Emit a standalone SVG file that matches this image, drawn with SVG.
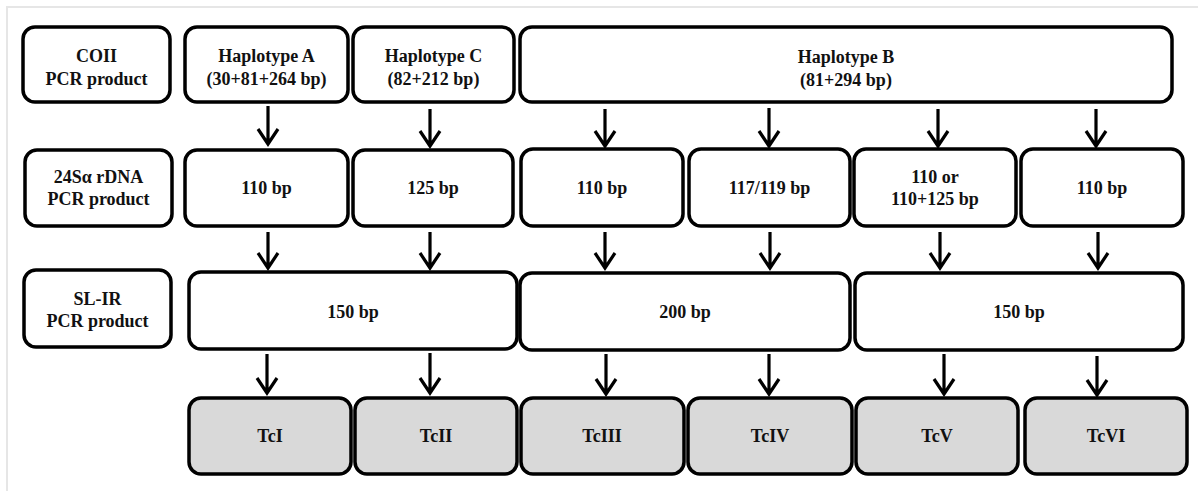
<svg xmlns="http://www.w3.org/2000/svg" width="1198" height="491" viewBox="0 0 1198 491">
<defs>
<style>
.box{fill:#ffffff;stroke:#000;stroke-width:3.5}
.tc{fill:#d9d9d9;stroke:#000;stroke-width:3.5}
.t{font-family:"Liberation Serif","Times New Roman",serif;font-weight:bold;font-size:18px;fill:#111;text-anchor:middle}
.arr{fill:none;stroke:#000;stroke-width:3.2;stroke-linejoin:miter}
.frame{stroke:#e6e6e6;stroke-width:2;fill:none}
</style>
</defs>
<rect width="1198" height="491" fill="#ffffff"/>
<path class="frame" d="M7,491 V7 H1198"/>

<g id="row1">
<g id="n-coii"><rect class="box" x="23" y="27" width="147" height="75" rx="12"/><text class="t" x="96.5" y="62">COII</text><text class="t" x="96.5" y="85">PCR product</text></g>
<g id="n-hapA"><rect class="box" x="185" y="27" width="163" height="75" rx="12"/><text class="t" x="266.5" y="62">Haplotype A</text><text class="t" x="266.5" y="85">(30+81+264 bp)</text></g>
<g id="n-hapC"><rect class="box" x="353" y="27" width="161" height="75" rx="12"/><text class="t" x="433.5" y="62">Haplotype C</text><text class="t" x="433.5" y="85">(82+212 bp)</text></g>
<g id="n-hapB"><rect class="box" x="520" y="27" width="652" height="75" rx="12"/><text class="t" x="846" y="63">Haplotype B</text><text class="t" x="846" y="86">(81+294 bp)</text></g>
</g>

<g id="row2">
<g id="n-24s"><rect class="box" x="25" y="150" width="147" height="76" rx="12"/><text class="t" x="98.5" y="183">24Sα rDNA</text><text class="t" x="98.5" y="205">PCR product</text></g>
<g id="n-r2a"><rect class="box" x="185" y="150" width="163" height="76" rx="12"/><text class="t" x="266.5" y="194">110 bp</text></g>
<g id="n-r2b"><rect class="box" x="353" y="150" width="160" height="76" rx="12"/><text class="t" x="433" y="194">125 bp</text></g>
<g id="n-r2c"><rect class="box" x="521" y="149" width="162" height="77" rx="12"/><text class="t" x="602" y="194">110 bp</text></g>
<g id="n-r2d"><rect class="box" x="689" y="149" width="161" height="77" rx="12"/><text class="t" x="769.5" y="194">117/119 bp</text></g>
<g id="n-r2e"><rect class="box" x="854" y="149" width="162" height="77" rx="12"/><text class="t" x="935" y="183">110 or</text><text class="t" x="935" y="205">110+125 bp</text></g>
<g id="n-r2f"><rect class="box" x="1021" y="149" width="162" height="77" rx="12"/><text class="t" x="1102" y="194">110 bp</text></g>
</g>

<g id="row3">
<g id="n-slir"><rect class="box" x="24" y="270" width="147" height="77" rx="12"/><text class="t" x="97.5" y="305">SL-IR</text><text class="t" x="97.5" y="327">PCR product</text></g>
<g id="n-r3a"><rect class="box" x="189" y="272" width="328" height="77" rx="12"/><text class="t" x="353" y="318">150 bp</text></g>
<g id="n-r3b"><rect class="box" x="520" y="273" width="330" height="77" rx="12"/><text class="t" x="685" y="318">200 bp</text></g>
<g id="n-r3c"><rect class="box" x="855" y="273" width="328" height="77" rx="12"/><text class="t" x="1019" y="318">150 bp</text></g>
</g>

<g id="row4">
<g id="n-tc1"><rect class="tc" x="189" y="398" width="162" height="76" rx="12"/><text class="t" x="270" y="442">TcI</text></g>
<g id="n-tc2"><rect class="tc" x="355" y="398" width="162" height="76" rx="12"/><text class="t" x="436" y="442">TcII</text></g>
<g id="n-tc3"><rect class="tc" x="521" y="398" width="163" height="76" rx="12"/><text class="t" x="602" y="442">TcIII</text></g>
<g id="n-tc4"><rect class="tc" x="688" y="398" width="164" height="76" rx="12"/><text class="t" x="770" y="442">TcIV</text></g>
<g id="n-tc5"><rect class="tc" x="856" y="398" width="162" height="76" rx="12"/><text class="t" x="937" y="442">TcV</text></g>
<g id="n-tc6"><rect class="tc" x="1025" y="398" width="162" height="76" rx="12"/><text class="t" x="1106" y="442">TcVI</text></g>
</g>

<g id="connectors">
<path class="arr" d="M268,106V144M258,129L268,144L278,129"/>
<path class="arr" d="M430,109V146M420,131L430,146L440,131"/>
<path class="arr" d="M605,109V146M595,131L605,146L615,131"/>
<path class="arr" d="M769,108V146M759,131L769,146L779,131"/>
<path class="arr" d="M938,109V146M928,131L938,146L948,131"/>
<path class="arr" d="M1096,109V146M1086,131L1096,146L1106,131"/>

<path class="arr" d="M268,232V268M258,253L268,268L278,253"/>
<path class="arr" d="M430,232V268M420,253L430,268L440,253"/>
<path class="arr" d="M605,232V268M595,253L605,268L615,253"/>
<path class="arr" d="M770,232V268M760,253L770,268L780,253"/>
<path class="arr" d="M940,232V268M930,253L940,268L950,253"/>
<path class="arr" d="M1098,232V268M1088,253L1098,268L1108,253"/>

<path class="arr" d="M267,354V393M257,378L267,393L277,378"/>
<path class="arr" d="M430,353V393M420,378L430,393L440,378"/>
<path class="arr" d="M606,354V394M596,379L606,394L616,379"/>
<path class="arr" d="M769,354V394M759,379L769,394L779,379"/>
<path class="arr" d="M944,354V394M934,379L944,394L954,379"/>
<path class="arr" d="M1097,356V395M1087,380L1097,395L1107,380"/>
</g>
</svg>
